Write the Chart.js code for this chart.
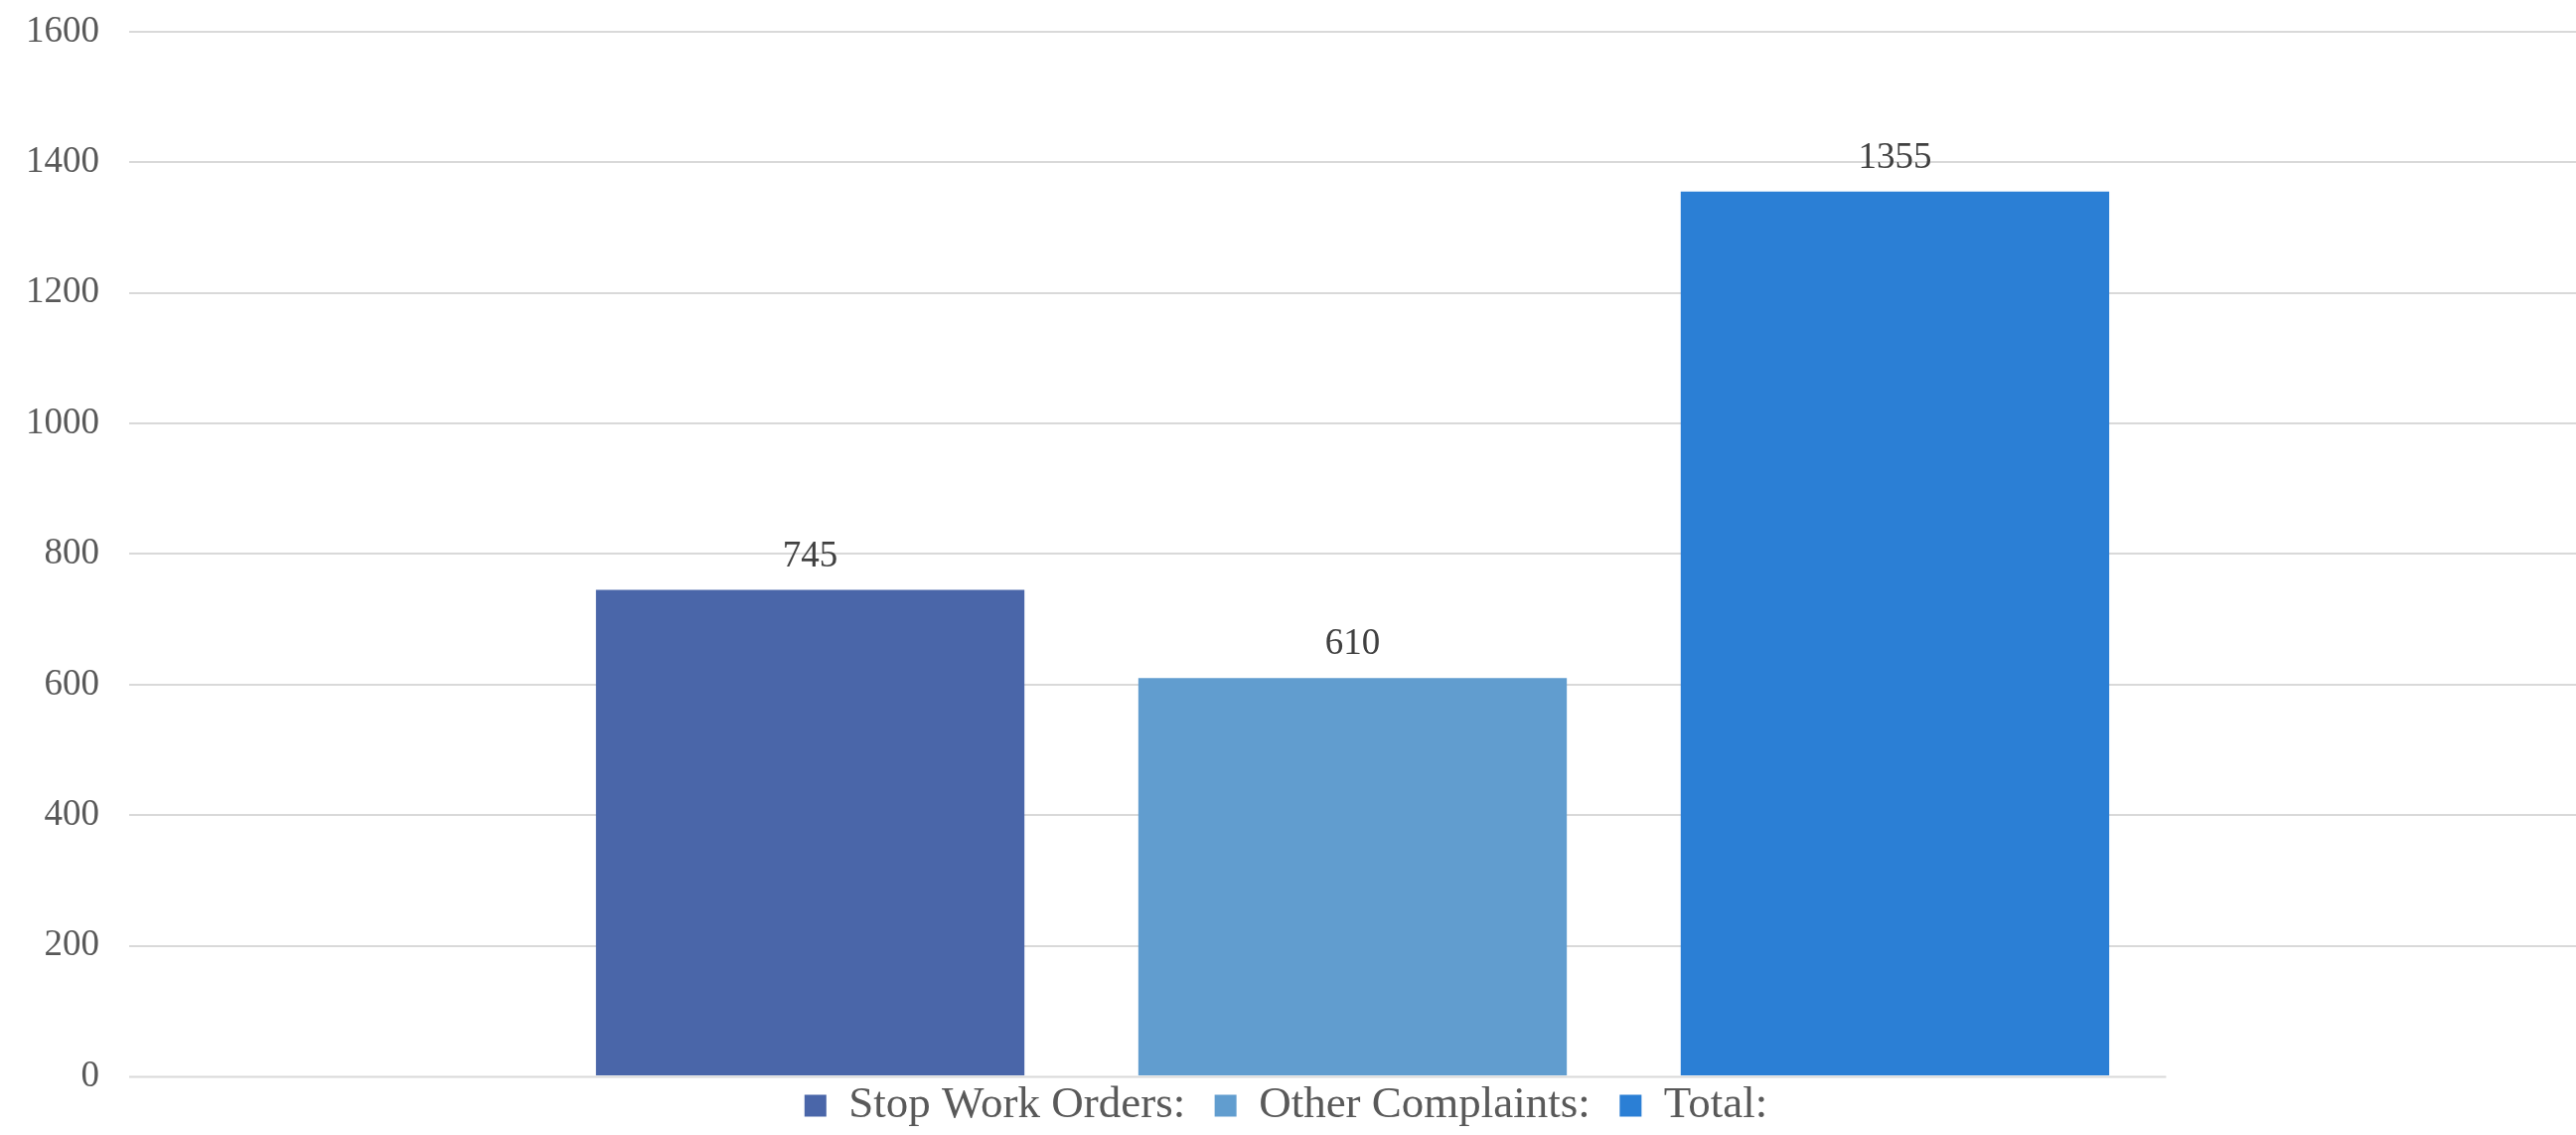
<!DOCTYPE html>
<html>
<head>
<meta charset="utf-8">
<title>Complaints</title>
<script src="https://cdn.jsdelivr.net/npm/chart.js@4/dist/chart.umd.min.js"></script>
<style>
    html, body { margin: 0; padding: 0; background: #ffffff; }
    #wrap { width: 2593px; height: 1142px; }
</style>
</head>
<body>
<div id="wrap"><canvas id="chart"></canvas></div>
<script>
const categories = [""];
const seriesNames = ["Stop Work Orders:", "Other Complaints:", "Total:"];
const stopWorkOrders = [745];
const otherComplaints = [610];
const total = [1355];
const seriesColors = ["#4a66a9", "#619dcf", "#2b7fd5"];
const yTicks = [0, 200, 400, 600, 800, 1000, 1200, 1400, 1600];

const serif = "'Liberation Serif', 'Times New Roman', serif";
const gridColor = "#d9d9d9";

// value labels above each bar
const barValues = {
    id: "barValues",
    afterDatasetsDraw(chart) {
        const { ctx } = chart;
        ctx.save();
        ctx.font = "37px " + serif;
        ctx.fillStyle = "#404040";
        ctx.textAlign = "center";
        ctx.textBaseline = "alphabetic";
        chart.data.datasets.forEach((ds, i) => {
            chart.getDatasetMeta(i).data.forEach((bar, j) => {
                ctx.fillText(String(ds.data[j]), bar.x, bar.y - 24);
            });
        });
        ctx.restore();
    },
};

// the zero line only runs to the end of the bar group
const baseLine = {
    id: "baseLine",
    beforeDatasetsDraw(chart) {
        const { ctx, chartArea, scales } = chart;
        const mid = chart.getDatasetMeta(1).data[0];
        const last = chart.getDatasetMeta(2).data[0];
        const step = last.x - mid.x;
        const y0 = Math.round(scales.y.getPixelForValue(0)) + 0.5;
        ctx.save();
        ctx.strokeStyle = gridColor;
        ctx.lineWidth = 2;
        ctx.beginPath();
        ctx.moveTo(chartArea.left, y0);
        ctx.lineTo(last.x + step / 2, y0);
        ctx.stroke();
        ctx.restore();
    },
};

const chart = new Chart(document.getElementById("chart"), {
    type: "bar",
    data: {
        labels: categories,
        datasets: [
            { label: seriesNames[0], data: stopWorkOrders, backgroundColor: seriesColors[0] },
            { label: seriesNames[1], data: otherComplaints, backgroundColor: seriesColors[1] },
            { label: seriesNames[2], data: total, backgroundColor: seriesColors[2] },
        ],
    },
    options: {
        responsive: true,
        maintainAspectRatio: false,
        animation: false,
        categoryPercentage: 0.665,
        barPercentage: 0.79,
        layout: { padding: { top: -10, left: -4, right: 0, bottom: -3 } },
        plugins: {
            tooltip: { enabled: false },
            legend: {
                position: "bottom",
                labels: {
                    color: "#595959",
                    font: { family: serif, size: 45 },
                    boxWidth: 22,
                    boxHeight: 22,
                    padding: 7,
                    // a little extra room between the legend entries
                    generateLabels: (c) =>
                        Chart.defaults.plugins.legend.labels.generateLabels(c).map((item, i, all) => ({
                            ...item,
                            text: i < all.length - 1 ? item.text + "  " : item.text,
                        })),
                },
            },
        },
        scales: {
            x: {
                display: false,
            },
            y: {
                min: 0,
                max: 1600,
                afterBuildTicks: (axis) => {
                    axis.ticks = yTicks.map((v) => ({ value: v }));
                },
                border: { display: false },
                grid: {
                    drawTicks: false,
                    lineWidth: 2,
                    color: (ctx) => (ctx.tick && ctx.tick.value === 0 ? "rgba(0,0,0,0)" : gridColor),
                },
                ticks: {
                    color: "#595959",
                    padding: 30,
                    font: { family: serif, size: 37, lineHeight: 0.1 },
                    callback: (v) => String(v),
                },
            },
        },
    },
    plugins: [baseLine, barValues],
});
</script>
</body>
</html>
